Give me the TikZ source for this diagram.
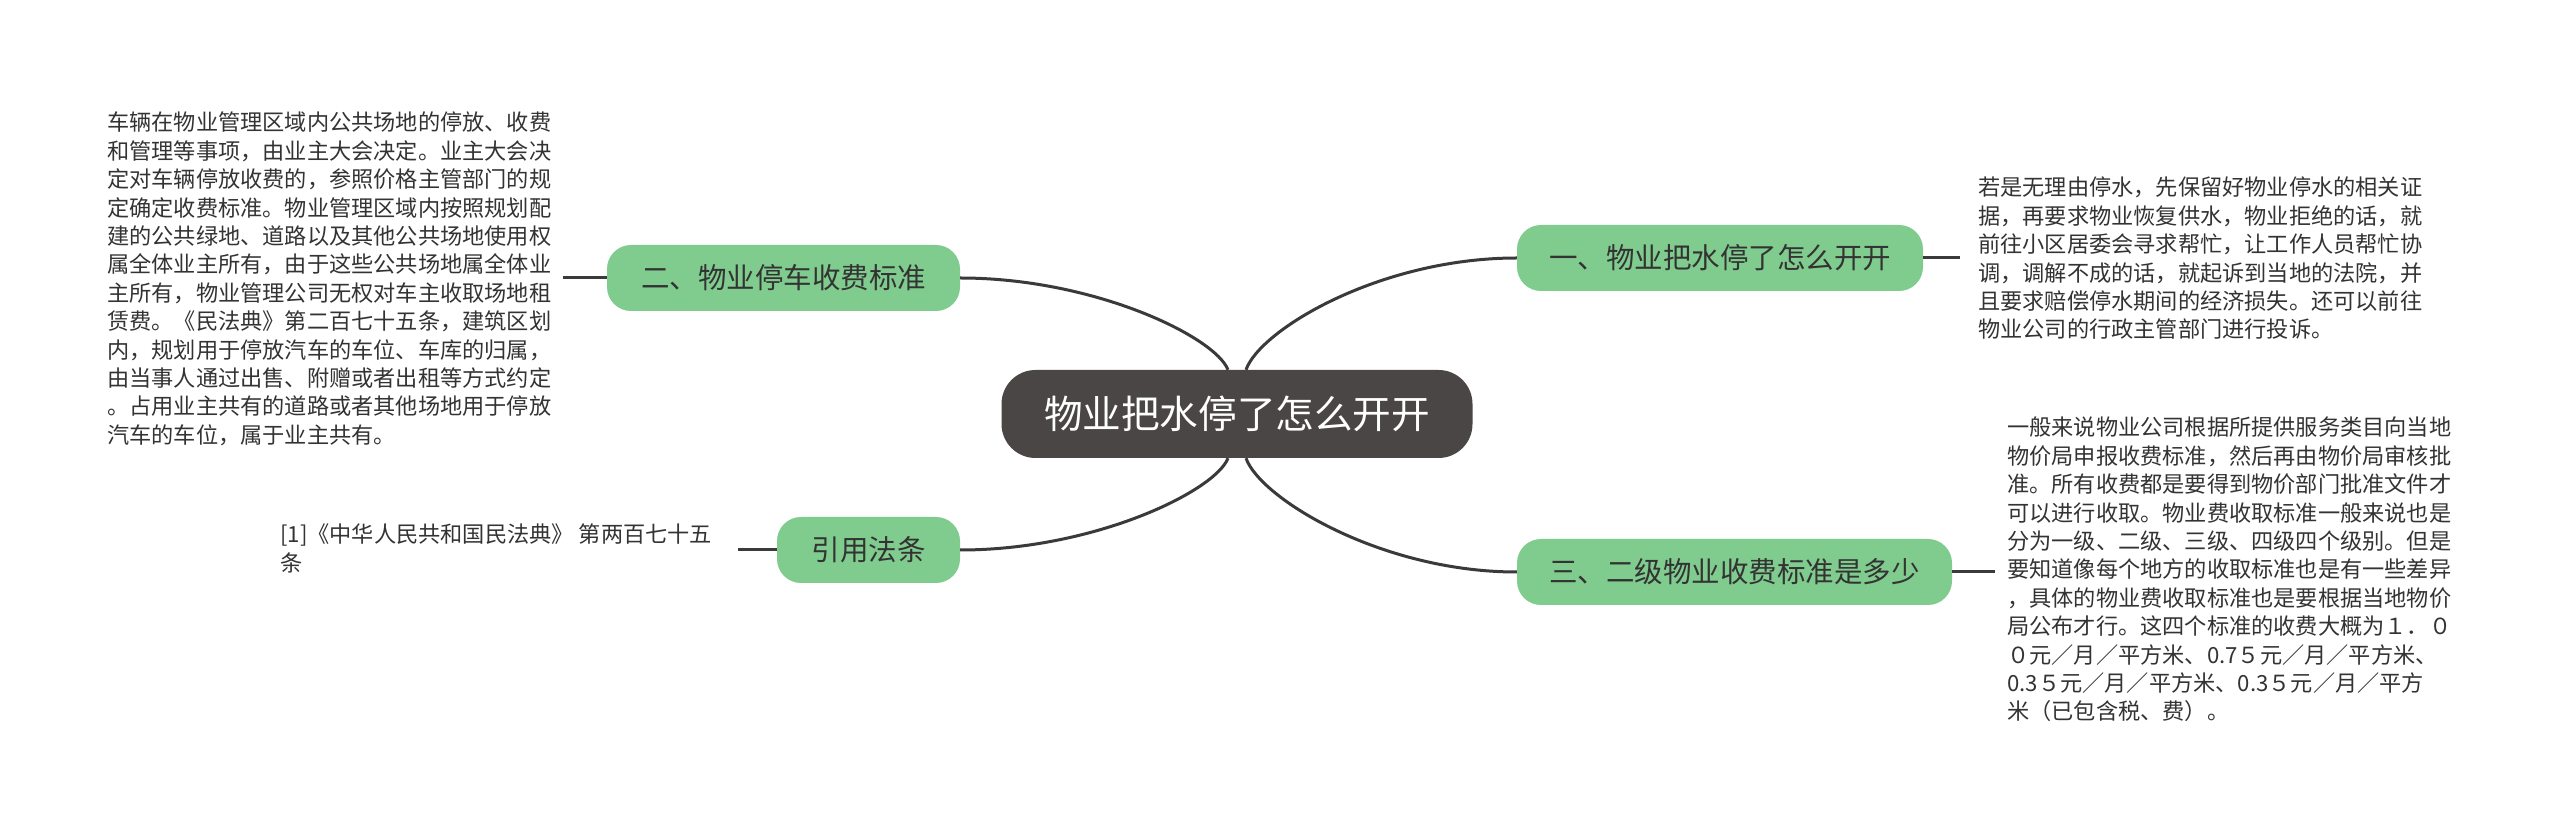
\documentclass[tikz,border=0pt]{standalone}
\usepackage{fontspec}
\newfontfamily\cjk{Noto Sans CJK SC}
\definecolor{bggreen}{HTML}{80CC8E}
\definecolor{rootfill}{HTML}{4A4646}
\definecolor{linecol}{HTML}{3A3A3A}
\definecolor{txtcol}{HTML}{333333}
\begin{document}
\begin{tikzpicture}[x=1pt,y=1pt,
  rootnode/.style={fill=rootfill, rounded corners=34pt, minimum width=471pt, minimum height=88pt, inner sep=0pt, text=white, font={\cjk\fontsize{38.6}{46}\selectfont}},
  branch/.style={fill=bggreen, rounded corners=24pt, minimum height=66pt, inner sep=0pt, text=txtcol, font={\cjk\fontsize{28.5}{34}\selectfont}},
  leaf/.style={anchor=north west, inner sep=0pt, align=left, text=txtcol, font={\cjk\fontsize{22.2}{28.4}\selectfont}},
  conn/.style={draw=linecol, line width=3pt}
]
\useasboundingbox (0,0) rectangle (2560,836);
\fill[white] (0,0) rectangle (2560,836);

\node[rootnode] (c) at (1237,422) {物业把水停了怎么开开};
\node[branch, minimum width=406pt] (n1) at (1720,578) {一、物业把水停了怎么开开};
\node[branch, minimum width=353pt] (n2) at (783.5,558) {二、物业停车收费标准};
\node[branch, minimum width=183pt] (n4) at (868.5,286) {引用法条};
\node[branch, minimum width=435pt] (n3) at (1734.5,264) {三、二级物业收费标准是多少};

\node[leaf] (t2) at (107,724) {车辆在物业管理区域内公共场地的停放、收费\\和管理等事项，由业主大会决定。业主大会决\\定对车辆停放收费的，参照价格主管部门的规\\定确定收费标准。物业管理区域内按照规划配\\建的公共绿地、道路以及其他公共场地使用权\\属全体业主所有，由于这些公共场地属全体业\\主所有，物业管理公司无权对车主收取场地租\\赁费。《民法典》第二百七十五条，建筑区划\\内，规划用于停放汽车的车位、车库的归属，\\由当事人通过出售、附赠或者出租等方式约定\\。占用业主共有的道路或者其他场地用于停放\\汽车的车位，属于业主共有。};
\node[leaf] (t1) at (1978,659) {若是无理由停水，先保留好物业停水的相关证\\据，再要求物业恢复供水，物业拒绝的话，就\\前往小区居委会寻求帮忙，让工作人员帮忙协\\调，调解不成的话，就起诉到当地的法院，并\\且要求赔偿停水期间的经济损失。还可以前往\\物业公司的行政主管部门进行投诉。};
\node[leaf] (t3) at (2007,419) {一般来说物业公司根据所提供服务类目向当地\\物价局申报收费标准，然后再由物价局审核批\\准。所有收费都是要得到物价部门批准文件才\\可以进行收取。物业费收取标准一般来说也是\\分为一级、二级、三级、四级四个级别。但是\\要知道像每个地方的收取标准也是有一些差异\\，具体的物业费收取标准也是要根据当地物价\\局公布才行。这四个标准的收费大概为１．０\\０元／月／平方米、0.7５元／月／平方米、\\0.3５元／月／平方米、0.3５元／月／平方\\米（已包含税、费）。};
\node[leaf] (t4) at (280,312) {[1]《中华人民共和国民法典》 第两百七十五\\条};

\coordinate (e1) at (1960,578);
\coordinate (e2) at (563,558);
\coordinate (e4) at (738,286);
\coordinate (e3) at (1995,264);

\draw[conn] ([xshift=9pt]c.north) .. controls +(14,40) and +(-137,0) .. (n1.west);
\draw[conn] ([xshift=-9pt]c.north) .. controls +(-13,33) and +(134,0) .. (n2.east);
\draw[conn] ([xshift=-9pt]c.south) .. controls +(-13,-33) and +(134,0) .. (n4.east);
\draw[conn] ([xshift=9pt]c.south) .. controls +(14,-40) and +(-136,0) .. (n3.west);

\draw[conn] (n1.east) -- (e1);
\draw[conn] (n2.west) -- (e2);
\draw[conn] (n4.west) -- (e4);
\draw[conn] (n3.east) -- (e3);
\end{tikzpicture}
\end{document}
